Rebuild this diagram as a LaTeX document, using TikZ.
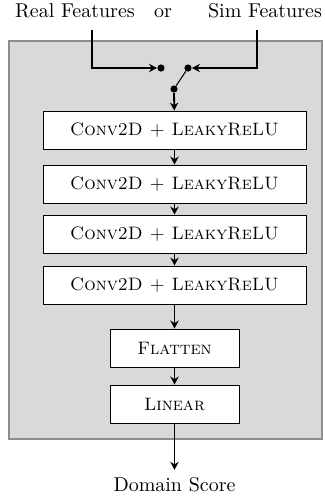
\documentclass[tikz,border=0pt]{standalone}
\usepackage{tikz}
\usetikzlibrary{arrows}
\usetikzlibrary{arrows.meta}

\tikzset{
  layer/.style={draw, fill=white, line width=0.45pt, minimum height=19pt, inner sep=0pt, font=\small},
  wide/.style={layer, minimum width=131.5pt},
  narrow/.style={layer, minimum width=64.5pt},
  flow/.style={line width=0.9pt, -{Stealth[length=4pt,width=4.2pt]}},
  dot/.style={circle, fill=black, inner sep=0pt, minimum size=3.6pt},
  label/.style={anchor=base}
}

\begin{document}
\begin{tikzpicture}[x=0.5pt, y=-0.5pt]
    \useasboundingbox (0,0) rectangle (325,500);
    % outer frame
    \draw[fill=black!15, draw=black!45, line width=1.1pt] (9,41) rectangle (322,439);
    %
    % Inputs
    \node[label] (real) at (75,17) {Real Features};
    \node[label] (or) at (163,17) {or};
    \node[label] (sim) at (265,17) {Sim Features};
    \coordinate (realtop) at (92,30);
    \coordinate (simtop) at (257,30);
    % Switch
    \node[dot] (inR) at (161,68) {};
    \node[dot] (inS) at (188,68) {};
    \node[dot] (sw) at (174,89) {};
    %
    % Layers
    \node[wide] (conv1) at (174.5,130) {\textsc{Conv2D + LeakyReLU}};
    \node[wide] (conv2) at (174.5,184) {\textsc{Conv2D + LeakyReLU}};
    \node[wide] (conv3) at (174.5,234) {\textsc{Conv2D + LeakyReLU}};
    \node[wide] (conv4) at (174.5,285) {\textsc{Conv2D + LeakyReLU}};
    \node[narrow] (flat) at (174.5,348) {\textsc{Flatten}};
    \node[narrow] (lin) at (174.5,404) {\textsc{Linear}};
    \node[label] (score) at (174.5,491) {Domain Score};
    %
    % Edges
  \draw[flow] (realtop) |- (inR);
  \draw[flow] (simtop) |- (inS);
  \draw[line width=0.5pt] (sw) -- (inS);
  \draw[flow] (sw) -- (conv1);
  \draw[flow] (conv1) -- (conv2);
  \draw[flow] (conv2) -- (conv3);
  \draw[flow] (conv3) -- (conv4);
  \draw[flow] (conv4) -- (flat);
  \draw[flow] (flat) -- (lin);
  \draw[flow] (lin) -- (score);
\end{tikzpicture}
\end{document}
